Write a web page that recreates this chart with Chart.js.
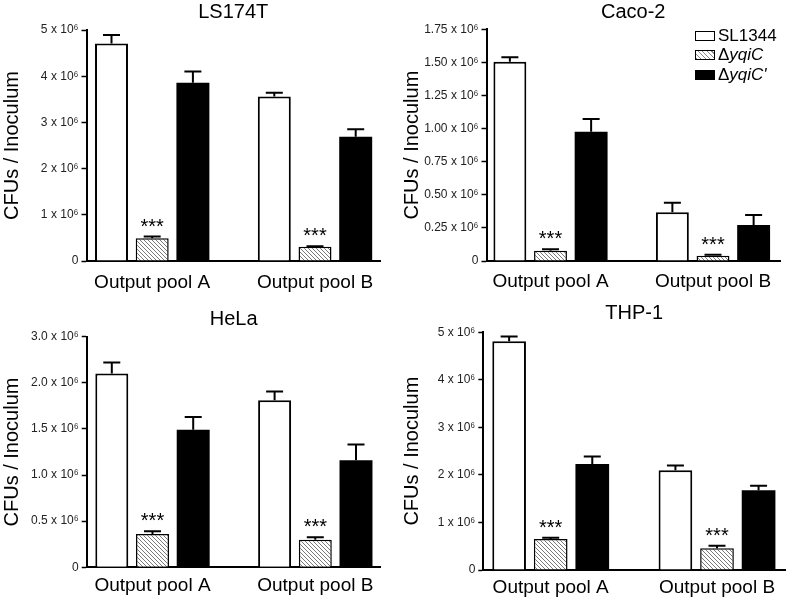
<!DOCTYPE html>
<html lang="en">
<head>
<meta charset="UTF-8">
<title>CFUs / Inoculum</title>
<script src="https://cdn.jsdelivr.net/npm/chart.js"></script>
<style>
    body {
        margin: 0;
        background: #fff;
        font-family: "Liberation Sans", Arial, sans-serif;
    }
    .wrap {
        position: relative;
        width: 800px;
        height: 612px;
    }
    .wrap canvas {
        position: absolute;
    }
    /* legend of the Caco-2 panel */
    .legend {
        position: absolute;
        left: 695px;
        top: 26px;
        font-size: 17px;
        color: #000;
    }
    .legend .row {
        display: flex;
        align-items: center;
        height: 19.6px;
    }
    .legend .sw {
        width: 20px;
        height: 10px;
        border: 1.5px solid #000;
        box-sizing: border-box;
        margin-right: 3px;
        background: #fff;
    }
    .legend .sw.hatch {
        background: repeating-linear-gradient(45deg, #888 0 1px, #fff 1px 3.2px);
    }
    .legend .sw.solid {
        background: #000;
    }
</style>
</head>
<body>
<div class="wrap">
    <canvas id="c1" width="400" height="300" style="left:0;top:0"></canvas>
    <canvas id="c2" width="400" height="300" style="left:400px;top:0"></canvas>
    <canvas id="c3" width="400" height="312" style="left:0;top:300px"></canvas>
    <canvas id="c4" width="400" height="312" style="left:400px;top:300px"></canvas>
    <div class="legend">
        <div class="row"><span class="sw"></span>SL1344</div>
        <div class="row"><span class="sw hatch"></span>Δ<i>yqiC</i></div>
        <div class="row"><span class="sw solid"></span>Δ<i>yqiC'</i></div>
    </div>
</div>

<script>
    // categories and series
    const categories = ['Output pool A', 'Output pool B'];
    const seriesNames = ['SL1344', 'ΔyqiC', "ΔyqiC'"];

    // values in 10^6 CFUs / inoculum, errors are the upper SEM
    const ls174tWt = [4.71, 3.56];
    const ls174tWtErr = [0.18, 0.08];
    const ls174tMut = [0.49, 0.31];
    const ls174tMutErr = [0.04, 0.01];
    const ls174tComp = [3.86, 2.69];
    const ls174tCompErr = [0.24, 0.16];

    const caco2Wt = [1.505, 0.368];
    const caco2WtErr = [0.033, 0.072];
    const caco2Mut = [0.078, 0.040];
    const caco2MutErr = [0.010, 0.008];
    const caco2Comp = [0.977, 0.272];
    const caco2CompErr = [0.095, 0.075];

    const helaWt = [2.10, 1.81];
    const helaWtErr = [0.12, 0.095];
    const helaMut = [0.36, 0.30];
    const helaMutErr = [0.03, 0.025];
    const helaComp = [1.49, 1.16];
    const helaCompErr = [0.14, 0.17];

    const thp1Wt = [4.81, 2.10];
    const thp1WtErr = [0.10, 0.10];
    const thp1Mut = [0.65, 0.46];
    const thp1MutErr = [0.03, 0.05];
    const thp1Comp = [2.23, 1.68];
    const thp1CompErr = [0.16, 0.09];

    // y tick labels as printed on each panel
    const ticksLS174T = ['0', '1 x 10⁶', '2 x 10⁶', '3 x 10⁶', '4 x 10⁶', '5 x 10⁶'];
    const ticksCaco2 = ['0', '0.25 x 10⁶', '0.50 x 10⁶', '0.75 x 10⁶', '1.00 x 10⁶', '1.25 x 10⁶', '1.50 x 10⁶', '1.75 x 10⁶'];
    const ticksHeLa = ['0', '0.5 x 10⁶', '1.0 x 10⁶', '1.5 x 10⁶', '2.0 x 10⁶', '3.0 x 10⁶'];
    const ticksTHP1 = ['0', '1 x 10⁶', '2 x 10⁶', '3 x 10⁶', '4 x 10⁶', '5 x 10⁶'];

    const FONT = '"Liberation Sans", Arial, sans-serif';
    Chart.defaults.color = '#000';
    Chart.defaults.font.family = FONT;

    // hatch pattern for the mutant bars
    function makeHatch() {
        const c = document.createElement('canvas');
        c.width = 4; c.height = 4;
        const g = c.getContext('2d');
        g.fillStyle = '#fff';
        g.fillRect(0, 0, 4, 4);
        g.strokeStyle = '#7a7a7a';
        g.lineWidth = 1;
        g.beginPath();
        g.moveTo(0, 0); g.lineTo(4, 4);
        g.moveTo(-1, 3); g.lineTo(1, 5);
        g.moveTo(3, -1); g.lineTo(5, 1);
        g.stroke();
        return g.createPattern(c, 'repeat');
    }
    const hatch = makeHatch();

    // upward error bars and *** over the mutant bars
    const errorBars = {
        id: 'errorBars',
        afterDatasetsDraw(chart) {
            const ctx = chart.ctx;
            const y = chart.scales.y;
            ctx.save();
            chart.data.datasets.forEach((ds, d) => {
                const meta = chart.getDatasetMeta(d);
                meta.data.forEach((bar, i) => {
                    const v = ds.data[i].y;
                    const top = y.getPixelForValue(v + ds.errors[i]);
                    ctx.strokeStyle = '#000';
                    ctx.lineWidth = 2;
                    if (ds.errors[i] > 0) {
                        ctx.beginPath();
                        ctx.moveTo(bar.x, bar.y);
                        ctx.lineTo(bar.x, top);
                        ctx.moveTo(bar.x - 8.5, top);
                        ctx.lineTo(bar.x + 8.5, top);
                        ctx.stroke();
                    }
                    if (ds.stars) {
                        ctx.fillStyle = '#000';
                        ctx.font = '20px ' + FONT;
                        ctx.textAlign = 'center';
                        ctx.textBaseline = 'alphabetic';
                        ctx.fillText(ds.stars, bar.x, top - 4);
                    }
                });
            });
            ctx.restore();
        }
    };

    function toPoints(arr) {
        return arr.map((v, i) => ({ x: i, y: v }));
    }

    function makePanel(p) {
        const ppu = p.cB - p.cA;
        const xMin = -(p.cA - p.axisL) / ppu;
        const xMax = 1 + (p.axisR - p.cB) / ppu;
        const barOpts = { categoryPercentage: 0.75, barPercentage: 0.81, borderColor: '#000' };

        new Chart(document.getElementById(p.id), {
            type: 'bar',
            data: {
                datasets: [
                    { ...barOpts, label: seriesNames[0], data: toPoints(p.wt), errors: p.wtErr,
                      backgroundColor: '#fff', borderWidth: 2 },
                    { ...barOpts, label: seriesNames[1], data: toPoints(p.mut), errors: p.mutErr,
                      backgroundColor: hatch, borderWidth: 1.5, stars: '***' },
                    { ...barOpts, label: seriesNames[2], data: toPoints(p.comp), errors: p.compErr,
                      backgroundColor: '#000', borderWidth: 0 }
                ]
            },
            options: {
                responsive: false,
                animation: false,
                devicePixelRatio: 1,
                layout: { padding: { left: 0, top: 0, bottom: 0, right: p.w - p.axisR } },
                plugins: {
                    legend: { display: false },
                    tooltip: { enabled: false },
                    title: {
                        display: true,
                        text: p.title,
                        fullSize: false,
                        color: '#000',
                        font: { size: 20, weight: 'normal', lineHeight: 1.2 },
                        padding: { top: p.titleY - 12, bottom: p.plotTop - p.titleY - 12 }
                    }
                },
                scales: {
                    x: {
                        type: 'linear',
                        offset: false,
                        min: xMin,
                        max: xMax,
                        z: 1,
                        grid: { display: false, drawTicks: false },
                        border: { display: true, color: '#000', width: 2 },
                        afterBuildTicks: (scale) => {
                            scale.ticks = categories.map((c, i) => ({ value: i }));
                        },
                        afterFit: (scale) => { scale.height = p.h - p.plotBottom; },
                        ticks: {
                            autoSkip: false,
                            maxRotation: 0,
                            padding: p.labelPad,
                            color: '#000',
                            font: { size: 19 },
                            callback: (value, index) => categories[index]
                        }
                    },
                    y: {
                        min: 0,
                        max: p.yMax,
                        afterFit: (scale) => { scale.width = p.axisL; },
                        grid: {
                            display: true,
                            drawOnChartArea: false,
                            drawTicks: true,
                            tickLength: 5,
                            tickColor: '#000',
                            tickWidth: 1.5
                        },
                        border: { display: true, color: '#000', width: 2 },
                        ticks: {
                            stepSize: p.yStep,
                            padding: 3,
                            color: '#222',
                            font: { size: 12 },
                            callback: (value, index) => p.tickLabels[index]
                        },
                        title: {
                            display: true,
                            text: 'CFUs / Inoculum',
                            color: '#000',
                            font: { size: 20, lineHeight: 1.2 },
                            padding: { top: 0, bottom: 0 }
                        }
                    }
                }
            },
            plugins: [errorBars]
        });
    }

    const panels = [
        { id: 'c1', title: 'LS174T', w: 400, h: 300, axisL: 86.5, axisR: 380, plotTop: 30, plotBottom: 261,
          cA: 152.2, cB: 315, titleY: 12.5, labelPad: 10, yMax: 5, yStep: 1, tickLabels: ticksLS174T,
          wt: ls174tWt, wtErr: ls174tWtErr, mut: ls174tMut, mutErr: ls174tMutErr, comp: ls174tComp, compErr: ls174tCompErr },
        { id: 'c2', title: 'Caco-2', w: 400, h: 300, axisL: 86.5, axisR: 380, plotTop: 29.3, plotBottom: 261,
          cA: 150.5, cB: 313, titleY: 12.5, labelPad: 9, yMax: 1.75, yStep: 0.25, tickLabels: ticksCaco2,
          wt: caco2Wt, wtErr: caco2WtErr, mut: caco2Mut, mutErr: caco2MutErr, comp: caco2Comp, compErr: caco2CompErr },
        { id: 'c3', title: 'HeLa', w: 400, h: 312, axisL: 86.7, axisR: 380.7, plotTop: 36.7, plotBottom: 267.3,
          cA: 152.5, cB: 315.3, titleY: 19, labelPad: 7.5, yMax: 2.5, yStep: 0.5, tickLabels: ticksHeLa,
          wt: helaWt, wtErr: helaWtErr, mut: helaMut, mutErr: helaMutErr, comp: helaComp, compErr: helaCompErr },
        { id: 'c4', title: 'THP-1', w: 400, h: 312, axisL: 83.3, axisR: 385, plotTop: 32.3, plotBottom: 270,
          cA: 150.7, cB: 317, titleY: 13.3, labelPad: 6, yMax: 5, yStep: 1, tickLabels: ticksTHP1,
          wt: thp1Wt, wtErr: thp1WtErr, mut: thp1Mut, mutErr: thp1MutErr, comp: thp1Comp, compErr: thp1CompErr }
    ];

    panels.forEach(makePanel);
</script>
</body>
</html>
